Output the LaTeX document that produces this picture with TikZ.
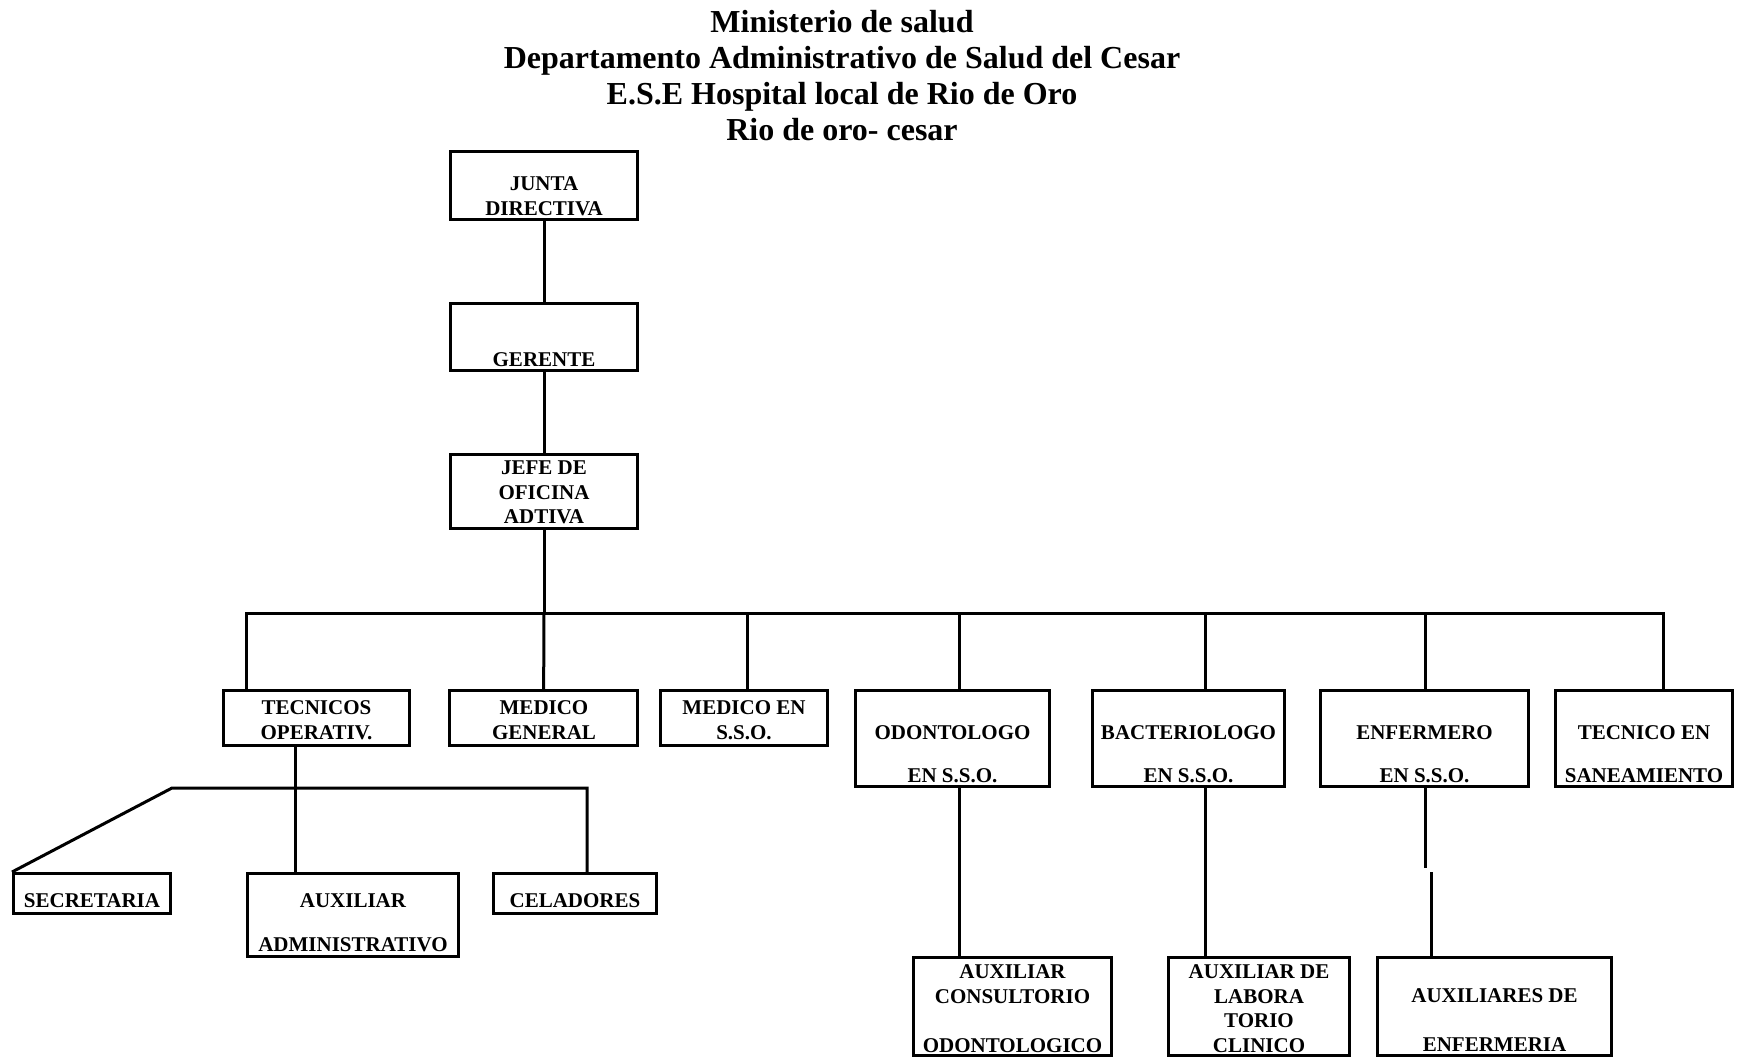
\documentclass[tikz,border=0pt]{standalone}
\usepackage{fontspec}
\setmainfont{Liberation Serif}

\begin{document}
\begin{tikzpicture}[x=1pt,y=-1pt,line width=3pt]
          \tikzstyle{every node}=[font=\fontsize{21}{24.5}\selectfont\bfseries]
          \tikzstyle{box}=[draw,rectangle,inner sep=0pt]
          \tikzstyle{txt}=[align=center,inner sep=0pt]
          \useasboundingbox (0,0) rectangle (1740,1058);

            \node[txt,font=\fontsize{32}{36}\selectfont\bfseries] (title) at (842,75.3)
              {Ministerio de salud\\Departamento Administrativo de Salud del Cesar\\E.S.E Hospital local de Rio de Oro\\Rio de oro- cesar};

            % boxes
            \node[box,minimum width=187,minimum height=68] (junta) at (544,185.5) {};
            \node[box,minimum width=187,minimum height=67] (gerente) at (544,337) {};
            \node[box,minimum width=187,minimum height=74] (jefe) at (544,491.5) {};
            \node[box,minimum width=186,minimum height=55] (tecop) at (316.5,718) {};
            \node[box,minimum width=188,minimum height=55] (medgen) at (543.5,718) {};
            \node[box,minimum width=167,minimum height=55] (medsso) at (744,718) {};
            \node[box,minimum width=194,minimum height=96] (odon) at (952.5,738.5) {};
            \node[box,minimum width=192,minimum height=96] (bact) at (1188.5,738.5) {};
            \node[box,minimum width=208,minimum height=96] (enf) at (1424.5,738.5) {};
            \node[box,minimum width=177,minimum height=96] (tecsan) at (1644,738.5) {};
            \node[box,minimum width=157,minimum height=40] (secre) at (92,893.5) {};
            \node[box,minimum width=211,minimum height=83] (auxadm) at (353,915) {};
            \node[box,minimum width=163,minimum height=40] (celad) at (575,893.5) {};
            \node[box,minimum width=198,minimum height=98] (auxcons) at (1012.5,1006.5) {};
            \node[box,minimum width=181,minimum height=98] (auxlab) at (1259,1006.5) {};
            \node[box,minimum width=234,minimum height=98] (auxenf) at (1494.5,1006.5) {};

            % texts
            \node[txt] (junta-t) at (544,196) {JUNTA\\DIRECTIVA};
            \node[txt] (gerente-t) at (544,359.5) {GERENTE};
            \node[txt] (jefe-t) at (544,492.5) {JEFE DE\\OFICINA\\ADTIVA};
            \node[txt] (tecop-t) at (316.5,720) {TECNICOS\\OPERATIV.};
            \node[txt] (medgen-t) at (544,720) {MEDICO\\GENERAL};
            \node[txt] (medsso-t) at (744,720) {MEDICO EN\\S.S.O.};
            \node[txt] (odon-t) at (952.5,754) {ODONTOLOGO\\[18.5pt]EN S.S.O.};
            \node[txt] (bact-t) at (1188.5,754) {BACTERIOLOGO\\[18.5pt]EN S.S.O.};
            \node[txt] (enf-t) at (1424.5,754) {ENFERMERO\\[18.5pt]EN S.S.O.};
            \node[txt] (tecsan-t) at (1644,754) {TECNICO EN\\[18.5pt]SANEAMIENTO};
            \node[txt] (secre-t) at (92,900.5) {SECRETARIA};
            \node[txt] (auxadm-t) at (353,922.5) {AUXILIAR\\[19.5pt]ADMINISTRATIVO};
            \node[txt] (celad-t) at (575,900.5) {CELADORES};
            \node[txt] (auxcons-t) at (1012.5,1008.5) {AUXILIAR\\CONSULTORIO\\[24.5pt]ODONTOLOGICO};
            \node[txt] (auxlab-t) at (1259,1008.5) {AUXILIAR DE\\LABORA\\TORIO\\CLINICO};
            \node[txt] (auxenf-t) at (1494.5,1020) {AUXILIARES DE\\[24.5pt]ENFERMERIA};

            % bus points
            \coordinate (bus-l) at (246,613);
            \coordinate (bus-c) at (544,613);
            \coordinate (bus-3) at (747,613);
            \coordinate (bus-4) at (959,613);
            \coordinate (bus-5) at (1205,613);
            \coordinate (bus-6) at (1425,613);
            \coordinate (bus-r) at (1663,613);
            \coordinate (sub-l) at (172,788);
            \coordinate (sub-m) at (295,788);
            \coordinate (sub-r) at (587,788);
            \coordinate (enf-brk) at (1425,868);
            \coordinate (enf-gap) at (1431,872);

            \draw (junta) -- (gerente);
            \draw (gerente) -- (jefe);
            \draw (jefe) -- (bus-c);
            \draw (bus-l |- tecop.north) -- (bus-l) -- (bus-r) -- (bus-r |- tecsan.north);
            \draw (bus-c) -- (medgen);
            \draw (bus-3) -- (bus-3 |- medsso.north);
            \draw (bus-4) -- (bus-4 |- odon.north);
            \draw (bus-5) -- (bus-5 |- bact.north);
            \draw (bus-6) -- (bus-6 |- enf.north);

            \draw (secre.north west) -- (sub-l) -- (sub-r) -- (sub-r |- celad.north);
            \draw (sub-m |- tecop.south) -- (sub-m |- auxadm.north);

            \draw (bus-4 |- odon.south) -- (bus-4 |- auxcons.north);
            \draw (bus-5 |- bact.south) -- (bus-5 |- auxlab.north);
            \draw (bus-6 |- enf.south) -- (enf-brk);
            \draw (enf-gap) -- (enf-gap |- auxenf.north);
        \end{tikzpicture}
\end{document}
